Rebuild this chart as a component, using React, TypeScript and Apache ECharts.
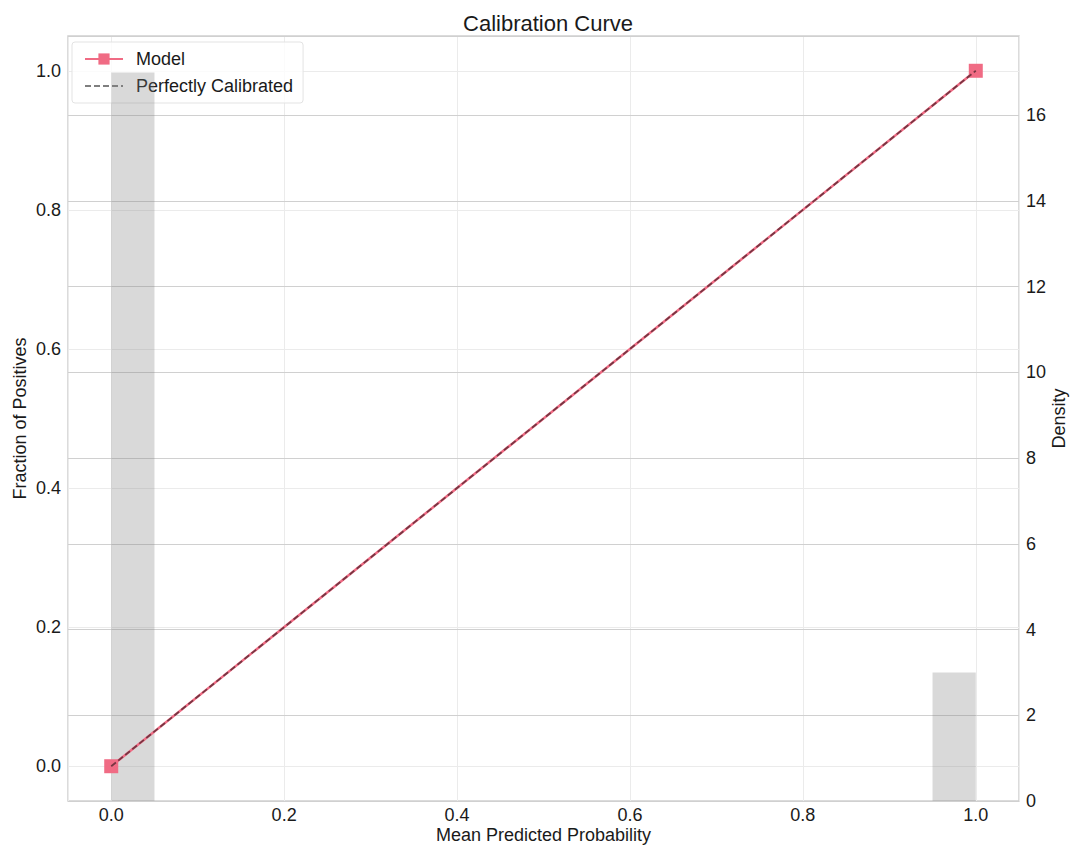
import React, { useEffect, useRef } from "react";
import * as echarts from "echarts";

// Calibration points (mean predicted probability, fraction of positives)
const modelPredicted = [0.0, 1.0];
const modelObserved = [0.0, 1.0];
// Reference diagonal
const diagonalX = [0.0, 1.0];
const diagonalY = [0.0, 1.0];
// Histogram of predicted probabilities (density), only non-empty bins
const histBinStart = [0.0, 0.95];
const histBinEnd = [0.05, 1.0];
const histDensity = [17, 3];

const FONT = "Liberation Sans, Arial, sans-serif";
const TEXT = "#1a1a1a";
const FS = 18;

export default function App() {
  const ref = useRef<HTMLDivElement>(null);

  useEffect(() => {
    if (!ref.current) return;
    const chart = echarts.init(ref.current, undefined, { renderer: "svg" });

    const histData = histBinStart.map((s, i) => [s, histBinEnd[i], histDensity[i]]);

    chart.setOption({
      animation: false,
      backgroundColor: "#ffffff",
      textStyle: { fontFamily: FONT },
      title: {
        text: "Calibration Curve",
        left: 543,
        textAlign: "center",
        top: 7,
        textStyle: { fontSize: 22, fontWeight: "normal", color: TEXT, fontFamily: FONT },
      },
      grid: {
        left: 68,
        right: 58,
        top: 36,
        bottom: 47,
        outerBoundsMode: "none",
        containLabel: false,
        show: true,
        borderColor: "#cfcfcf",
        borderWidth: 1.5,
        backgroundColor: "transparent",
      },
      legend: {
        z: 1,
        orient: "vertical",
        left: 72,
        top: 42,
        padding: [8, 10, 8, 12],
        itemWidth: 38,
        itemHeight: 14,
        itemGap: 9,
        backgroundColor: "rgba(255,255,255,0.8)",
        borderColor: "#e3e3e3",
        borderWidth: 1,
        borderRadius: 3,
        textStyle: {
          fontSize: FS,
          color: TEXT,
          fontFamily: FONT,
          lineHeight: 18,
          padding: [0, 0, 0, 8],
        },
        data: [
          { name: "Model" },
          { name: "Perfectly Calibrated", itemStyle: { opacity: 0 } },
        ],
      },
      xAxis: {
        type: "value",
        min: -0.05,
        max: 1.05,
        splitNumber: 5,
        name: "Mean Predicted Probability",
        nameLocation: "middle",
        nameGap: 25,
        nameMoveOverlap: false,
        nameTextStyle: { fontSize: FS, color: TEXT, fontFamily: FONT },
        axisLine: { show: false },
        axisTick: { show: false },
        axisLabel: {
          fontSize: FS,
          color: TEXT,
          fontFamily: FONT,
          margin: 5,
          showMinLabel: false,
          showMaxLabel: false,
          formatter: (v: number) => v.toFixed(1),
        },
        splitLine: { show: true, lineStyle: { color: "#ebebeb", width: 1 } },
      },
      yAxis: [
        {
          type: "value",
          min: -0.05,
          max: 1.05,
          splitNumber: 5,
          name: "Fraction of Positives",
          nameLocation: "middle",
          nameGap: 39,
          nameMoveOverlap: false,
          nameTextStyle: { fontSize: FS, color: TEXT, fontFamily: FONT },
          axisLine: { show: false },
          axisTick: { show: false },
          axisLabel: {
            fontSize: FS,
            color: TEXT,
            fontFamily: FONT,
            margin: 7,
            showMinLabel: false,
            showMaxLabel: false,
            formatter: (v: number) => v.toFixed(1),
          },
          splitLine: { show: true, lineStyle: { color: "#ebebeb", width: 1 } },
        },
        {
          type: "value",
          z: 2,
          min: 0,
          max: 17.85,
          interval: 2,
          position: "right",
          name: "Density",
          nameLocation: "middle",
          nameGap: 31,
          nameMoveOverlap: false,
          nameTextStyle: { fontSize: FS, color: TEXT, fontFamily: FONT },
          axisLine: { show: false },
          axisTick: { show: false },
          axisLabel: {
            fontSize: FS,
            color: TEXT,
            fontFamily: FONT,
            margin: 7,
            showMaxLabel: false,
          },
          splitLine: { show: true, lineStyle: { color: "#d0d0d0", width: 1 } },
        },
      ],
      series: [
        {
          type: "custom",
          name: "Density",
          xAxisIndex: 0,
          yAxisIndex: 1,
          z: 2,
          silent: true,
          data: histData,
          encode: { x: [0, 1], y: 2 },
          renderItem: (params: any, api: any) => {
            const start = api.value(0);
            const end = api.value(1);
            const d = api.value(2);
            const p0 = api.coord([start, d]);
            const p1 = api.coord([end, 0]);
            return {
              type: "rect",
              shape: { x: p0[0], y: p0[1], width: p1[0] - p0[0], height: p1[1] - p0[1] },
              style: { fill: "rgba(128,128,128,0.3)" },
            };
          },
        },
        {
          type: "line",
          name: "Model",
          z: 3,
          yAxisIndex: 0,
          data: modelPredicted.map((x, i) => [x, modelObserved[i]]),
          symbol: "rect",
          symbolSize: 14,
          lineStyle: { color: "#f06b84", width: 2.5 },
          itemStyle: { color: "#f06b84" },
        },
        {
          type: "line",
          name: "Perfectly Calibrated",
          z: 4,
          yAxisIndex: 0,
          data: diagonalX.map((x, i) => [x, diagonalY[i]]),
          symbol: "none",
          lineStyle: { color: "rgba(0,0,0,0.5)", width: 1.8, type: [6, 3] },
          itemStyle: { color: "rgba(0,0,0,0.5)" },
        },
      ],
    });

    return () => chart.dispose();
  }, []);

  return (
    <div
      ref={ref}
      style={{ position: "fixed", left: 0, top: 0, width: 1077, height: 848 }}
    />
  );
}
